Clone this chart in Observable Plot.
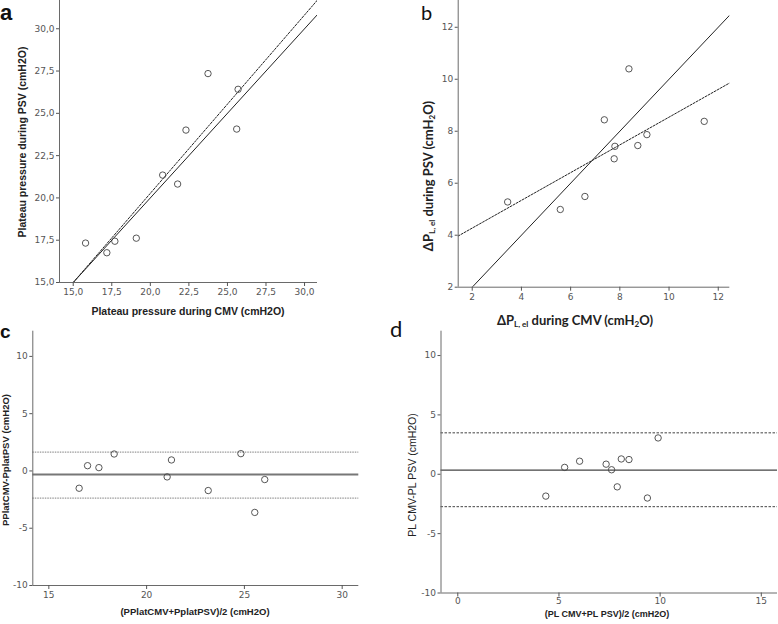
<!DOCTYPE html>
<html><head><meta charset="utf-8">
<script src="https://cdn.jsdelivr.net/npm/d3@7"></script>
<script src="https://cdn.jsdelivr.net/npm/@observablehq/plot@0.6"></script>
<style>
body{margin:0;background:#fff;}
#fig{position:relative;width:778px;height:624px;overflow:hidden;font-family:"Liberation Sans",Arial,sans-serif;background:#fff;}
#fig svg{position:absolute;overflow:visible;}
.lbl{position:absolute;white-space:nowrap;color:#222;font-weight:bold;line-height:1;}
.rot{transform:translate(-50%,-50%) rotate(-90deg);}
.hz{transform:translate(-50%,-50%);}
.cal{font-family:Lato,"Liberation Sans",sans-serif;}
.lbl sub{font-size:0.62em;vertical-align:-0.3em;line-height:0;}
.letter{position:absolute;line-height:1;color:#111;}
</style></head><body><div id="fig"></div>
<script>
// ---------- Panel a: plateau pressure ----------
const aCMV = [15.8, 17.18, 17.7, 19.09, 20.8, 21.77, 22.31, 23.74, 25.69, 25.6];
const aPSV = [17.33, 16.76, 17.44, 17.62, 21.35, 20.82, 24.01, 27.35, 26.42, 24.07];
const aTicks = [15, 17.5, 20, 22.5, 25, 27.5, 30];
const aIdentityX = [15, 30.84], aIdentityY = [15, 30.84];
const aFitX = [15, 30.84], aFitY = [15, 31.7];

// ---------- Panel b: ΔPL,el ----------
const bCMV = [3.44, 5.58, 6.58, 7.37, 7.8, 7.77, 8.37, 8.73, 9.1, 11.43];
const bPSV = [5.28, 4.99, 5.49, 8.44, 7.42, 6.94, 10.4, 7.45, 7.87, 8.38];
const bTicks = [2, 4, 6, 8, 10, 12];
const bIdentityX = [2, 12.47], bIdentityY = [2, 12.47];
const bFitX = [1.43, 12.47], bFitY = [3.97, 9.86];

// ---------- Panel c: Bland-Altman plateau ----------
const cMeanX = [16.55, 16.98, 17.56, 18.34, 21.05, 21.27, 23.15, 24.82, 25.53, 26.04];
const cDiff = [-1.51, 0.46, 0.29, 1.48, -0.52, 0.96, -1.71, 1.51, -3.62, -0.75];
const cBias = -0.32, cUpper = 1.65, cLower = -2.38;
const cXTicks = [15, 20, 25, 30];
const cYTicks = [-10, -5, 0, 5, 10];

// ---------- Panel d: Bland-Altman ΔPL ----------
const dMeanX = [4.35, 5.28, 6.02, 7.33, 7.6, 7.88, 8.08, 8.46, 9.37, 9.9];
const dDiff = [-1.84, 0.58, 1.1, 0.85, 0.38, -1.06, 1.29, 1.24, -2.0, 3.06];
const dBias = 0.35, dUpper = 3.49, dLower = -2.73;
const dXTicks = [0, 5, 10, 15];
const dYTicks = [-10, -5, 0, 5, 10];

const fig = document.getElementById("fig");
const pts = (xs, ys) => xs.map((x, i) => ({x, y: ys[i]}));
const commaFmt = v => v.toFixed(1).replace(".", ",");
const intFmt = v => String(v);
const AX = "#6a6a6a";

function panel({left, top, width, height, m, xDomain, yDomain, xTicks, yTicks, fmt, marks, xPad = 2}) {
  const svg = Plot.plot({
    width, height,
    marginLeft: m[0], marginRight: m[1], marginTop: m[2], marginBottom: m[3],
    x: {domain: xDomain},
    y: {domain: yDomain},
    style: {fontFamily: "DejaVu Sans, sans-serif", fontSize: "9px", background: "transparent"},
    marks: [
      ...marks,
      Plot.ruleX([xDomain[0]], {stroke: AX, strokeWidth: 1}),
      Plot.ruleY([yDomain[0]], {stroke: AX, strokeWidth: 1}),
      Plot.axisX({ticks: xTicks, tickFormat: fmt, tickSize: 4, tickPadding: xPad, label: null, color: "#555", fontSize: 9}),
      Plot.axisY({ticks: yTicks, tickFormat: fmt, tickSize: 3, tickPadding: 2, label: null, color: "#555", fontSize: 9})
    ]
  });
  svg.style.left = left + "px";
  svg.style.top = top + "px";
  fig.appendChild(svg);
}

function label(html, x, y, cls, style) {
  const d = document.createElement("div");
  d.className = "lbl " + cls;
  d.innerHTML = html;
  d.style.left = x + "px";
  d.style.top = y + "px";
  Object.assign(d.style, style || {});
  fig.appendChild(d);
}
function letter(t, x, y, style) {
  const d = document.createElement("div");
  d.className = "letter";
  d.textContent = t;
  d.style.left = x + "px";
  d.style.top = y + "px";
  Object.assign(d.style, style);
  fig.appendChild(d);
}

const circ = {x: "x", y: "y", r: 3.2, stroke: "#444", strokeWidth: 0.9, fill: "none"};

// Panel a
panel({
  left: 0, top: 0, width: 330, height: 300, m: [59, 13, 0, 18],
  xDomain: [14.11, 30.84], yDomain: [15, 31.67],
  xTicks: aTicks, yTicks: aTicks, fmt: commaFmt,
  marks: [
    Plot.line(pts(aIdentityX, aIdentityY), {x: "x", y: "y", stroke: "#222", strokeWidth: 1, clip: true}),
    Plot.line(pts(aFitX, aFitY), {x: "x", y: "y", stroke: "#222", strokeWidth: 1, strokeDasharray: "2,1.5", clip: true}),
    Plot.dot(pts(aCMV, aPSV), circ)
  ]
});
// Panel b
panel({
  left: 390, top: 0, width: 350, height: 305, m: [67.7, 10.7, 0, 18.3],
  xDomain: [1.43, 12.47], yDomain: [2, 13.03],
  xTicks: bTicks, yTicks: bTicks, fmt: intFmt,
  marks: [
    Plot.line(pts(bIdentityX, bIdentityY), {x: "x", y: "y", stroke: "#222", strokeWidth: 1, clip: true}),
    Plot.line(pts(bFitX, bFitY), {x: "x", y: "y", stroke: "#222", strokeWidth: 1, strokeDasharray: "2,1.5", clip: true}),
    Plot.dot(pts(bCMV, bPSV), circ)
  ]
});
// Panel c
panel({
  left: 0, top: 325, width: 370, height: 280, m: [32.3, 11.7, 5.7, 20],
  xDomain: [14.18, 30.85], yDomain: [-10, 12.2],
  xTicks: cXTicks, yTicks: cYTicks, fmt: intFmt,
  marks: [
    Plot.ruleY([cUpper, cLower], {stroke: "#999", strokeWidth: 1.2, strokeDasharray: "1.5,1"}),
    Plot.ruleY([cBias], {stroke: "#777", strokeWidth: 2}),
    Plot.dot(pts(cMeanX, cDiff), circ)
  ]
});
// Panel d
panel({
  left: 390, top: 325, width: 388, height: 285, m: [50.5, 1, 5.7, 17.5],
  xDomain: [-0.83, 15.8], yDomain: [-10, 12.05],
  xTicks: dXTicks, yTicks: dYTicks, fmt: intFmt, xPad: 1,
  marks: [
    Plot.ruleY([dUpper, dLower], {stroke: "#444", strokeWidth: 1, strokeDasharray: "2.5,1.5"}),
    Plot.ruleY([dBias], {stroke: "#444", strokeWidth: 1.3}),
    Plot.dot(pts(dMeanX, dDiff), circ)
  ]
});

// Axis labels
label("Plateau pressure during PSV (cmH2O)", 22, 142, "rot", {fontSize: "10.5px"});
label("Plateau pressure during CMV (cmH2O)", 188, 311, "hz", {fontSize: "10.5px"});
label("ΔP<sub>L, el</sub> during PSV (cmH<sub>2</sub>O)", 428, 176, "rot cal", {fontSize: "13px"});
label("ΔP<sub>L, el</sub> during CMV (cmH<sub>2</sub>O)", 575, 320, "hz cal", {fontSize: "13px"});
label("PPlatCMV-PplatPSV (cmH2O)", 6, 460, "rot", {fontSize: "9.5px"});
label("(PPlatCMV+PplatPSV)/2 (cmH2O)", 195, 612, "hz", {fontSize: "9.5px"});
label("PL CMV-PL PSV (cmH2O)", 412, 475, "rot", {fontSize: "10.5px", fontWeight: "normal"});
label("(PL CMV+PL PSV)/2 (cmH2O)", 607, 614, "hz", {fontSize: "9px"});

// Panel letters
letter("a", 0, 2, {fontSize: "22px", fontWeight: "bold", fontFamily: "Liberation Sans, Arial, sans-serif"});
letter("b", 421, 2, {fontSize: "20px", fontFamily: "Lato, sans-serif"});
letter("c", 0, 322, {fontSize: "19px", fontWeight: "bold", fontFamily: "Liberation Sans, Arial, sans-serif"});
letter("d", 390, 318, {fontSize: "22px", fontFamily: "Lato, sans-serif"});
</script></body></html>
